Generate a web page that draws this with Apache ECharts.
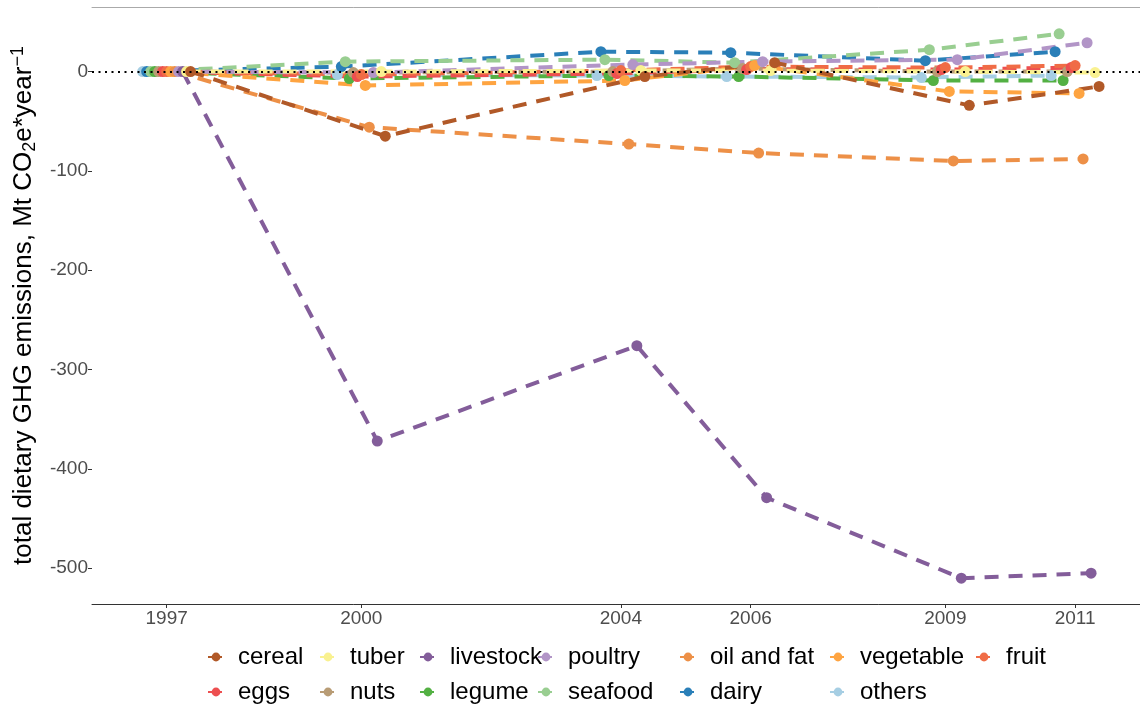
<!DOCTYPE html>
<html>
<head>
<meta charset="utf-8">
<script src="https://cdn.jsdelivr.net/npm/echarts@6/dist/echarts.min.js"></script>
<style>
html,body{margin:0;padding:0;background:#fff;}
#chart{width:1140px;height:708px;}
</style>
</head>
<body>
<div id="chart"></div>
<script>
// ---- data ----
const years = [1997, 2000, 2004, 2006, 2009, 2011];
const yearLabels = ['1997', '2000', '2004', '2006', '2009', '2011'];
const yTicks = [0, -100, -200, -300, -400, -500];
const categories = ['cereal', 'tuber', 'livestock', 'poultry', 'oil and fat', 'vegetable', 'fruit',
                    'eggs', 'nuts', 'legume', 'seafood', 'dairy', 'others'];
const cereal    = [0, -65, -5, 9, -34, -15];
const tuber     = [0, 0, 1, 1, 0, -1];
const livestock = [0, -372, -276, -429, -510, -505];
const poultry   = [0, -1, 7, 10, 12, 29];
const oilFat    = [0, -56, -73, -82, -90, -88];
const vegetable = [0, -14, -9, 6, -20, -22];
const fruit     = [0, -3, 1, 5, 4, 6];
const eggs      = [0, -5, -2, 2, 2, 4];
const nuts      = [0, -1, 0, 3, 0, 0];
const legume    = [0, -7, -4, -5, -9, -9];
const seafood   = [0, 10, 12, 9, 22, 38];
const dairy     = [0, 5, 20, 19, 11, 20];
const others    = [0, -3, -4, -5, -6, -4];
const seriesValues = [cereal, tuber, livestock, poultry, oilFat, vegetable, fruit,
                      eggs, nuts, legume, seafood, dairy, others];

// ---- styles ----
const colors = ['#b15928', '#f9f190', '#835d9a', '#b295c7', '#ed9047', '#fea441', '#f06c46',
                '#ed4f50', '#b89c75', '#53b043', '#99ce91', '#2a7fb8', '#a6cee3'];
const FONT = 'Liberation Sans, Arial, sans-serif';
const n = categories.length;
const dodgeWidth = 0.8;

const series = [];
// draw in factor order (others first, cereal last) like ggplot
for (let k = 0; k < n; k++) {
  const li = n - 1 - k;          // legend index
  const off = (k - (n - 1) / 2) * dodgeWidth / n;   // position_dodge
  const vals = seriesValues[li];
  series.push({
    name: categories[li],
    type: 'line',
    data: years.map((yr, i) => [yr + off, vals[i]]),
    symbol: 'circle',
    symbolSize: 11,
    showAllSymbol: true,
    itemStyle: { color: colors[li] },
    lineStyle: { color: colors[li], width: 4, type: [14, 10] },
    emphasis: { disabled: true },
    z: 2
  });
}
series.push({
  name: 'zero',
  type: 'line',
  data: [],
  z: 10,
  silent: true,
  markLine: {
    silent: true,
    symbol: 'none',
    label: { show: false },
    lineStyle: { color: '#000', width: 2, type: [2, 4.5] },
    data: [{ yAxis: 0 }],
    animation: false
  }
});

// legend columns (ggplot-like grid of 2 rows)
const colCenters = [215, 327, 427, 545, 687, 837, 983];
const legends = colCenters.map((cx, c) => {
  const items = [categories[c]];
  if (c + 7 < n) items.push(categories[c + 7]);
  return {
    orient: 'vertical',
    left: cx - 8,
    top: 643,
    height: 65,
    padding: 0,
    itemWidth: 16,
    itemHeight: 11,
    itemGap: 7,
    selectedMode: false,
    data: items,
    textStyle: { fontSize: 24, color: '#000', fontFamily: FONT, lineHeight: 28, padding: [0, 0, 0, 9] }
  };
});

const chart = echarts.init(document.getElementById('chart'), null, { renderer: 'canvas' });
chart.setOption({
  animation: false,
  backgroundColor: '#fff',
  color: colors,
  grid: { left: 92, right: 0, top: 7, bottom: 104 },
  legend: legends,
  xAxis: [{
    type: 'value',
    min: 1995.85,
    max: 2012.0,
    splitLine: { show: false },
    axisLine: { show: true, onZero: false, lineStyle: { color: '#333', width: 1 } },
    axisTick: { show: true, customValues: years, length: 4, lineStyle: { color: '#333' } },
    axisLabel: {
      customValues: years,
      formatter: v => yearLabels[years.indexOf(Math.round(v))] || '',
      fontSize: 19, color: '#4d4d4d', fontFamily: FONT, margin: 5
    }
  }, {
    type: 'value',
    position: 'top',
    min: 1995.85,
    max: 2012.0,
    splitLine: { show: false },
    axisLine: { show: true, onZero: false, lineStyle: { color: '#aaaaaa', width: 1 } },
    axisTick: { show: false },
    axisLabel: { show: false }
  }],
  yAxis: {
    type: 'value',
    min: -536,
    max: 65,
    splitLine: { show: false },
    axisLine: { show: false },
    axisTick: { show: true, customValues: yTicks, length: 4, lineStyle: { color: '#333' } },
    axisLabel: { customValues: yTicks, fontSize: 19, color: '#4d4d4d', fontFamily: FONT, margin: 4 },
    name: '{t|total dietary GHG emissions, Mt CO}{s|2}{t|e*year}{p|\u22121}',
    nameLocation: 'middle',
    nameGap: 47,
    nameTextStyle: {
      rich: {
        t: { fontSize: 26, color: '#000', fontFamily: FONT, lineHeight: 30, verticalAlign: 'middle' },
        s: { fontSize: 18, color: '#000', fontFamily: FONT, lineHeight: 17, verticalAlign: 'bottom' },
        p: { fontSize: 18, color: '#000', fontFamily: FONT, lineHeight: 17, verticalAlign: 'top' }
      }
    }
  },
  series: series
});
</script>
</body>
</html>
